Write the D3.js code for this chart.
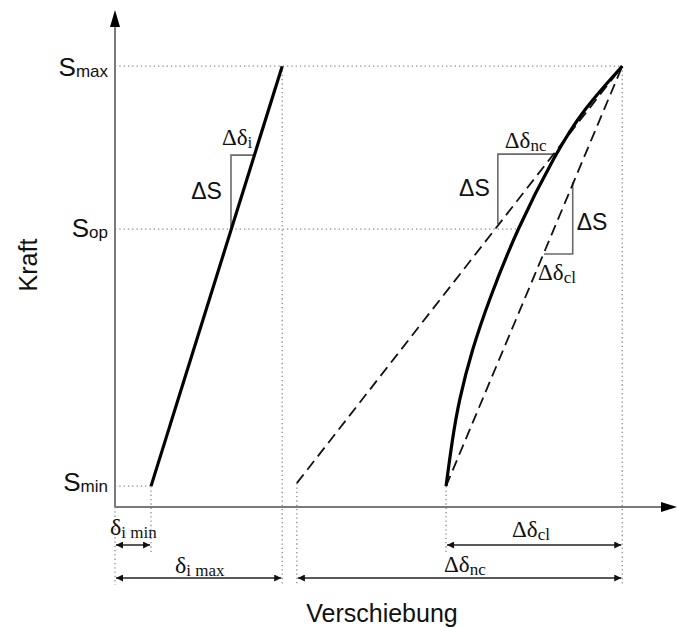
<!DOCTYPE html>
<html>
<head>
<meta charset="utf-8">
<script src="https://cdn.jsdelivr.net/npm/d3@7"></script>
<style>
  html, body { margin: 0; padding: 0; background: #fff; }
  svg { display: block; }
  .sans { font-family: "Liberation Sans", Arial, sans-serif; }
  .serif { font-family: "Liberation Serif", "Times New Roman", serif; }
</style>
</head>
<body>
<svg id="chart"></svg>
<script>
// Force levels (y) and displacement marks (x), in axis units 0..100
const forceSubs = ["min", "op", "max"];
const forceValues = [4.2, 55.9, 88.7];

const shiftIMin = 6.4;
const shiftIMax = 29.7;
const shiftNcStart = 32.3;
const shiftClStart = 58.8;
const shiftEnd = 90.1;

// Lines
const innerLine = [[6.4, 4.2], [29.7, 88.7]];
const ncSecant = [[32.3, 4.8], [90.1, 88.7]];
const clSecant = [[58.8, 4.2], [90.1, 88.7]];
const loadCurve = [[58.8, 4.2], [59.9, 13.5], [61.1, 21.5], [63.4, 31.6], [66.4, 41.6], [71.4, 55.9], [78.2, 71.0], [83.1, 79.9], [90.1, 88.7]];

// Slope triangles (three corners each)
const slopeTriangles = [
    [[20.6, 55.9], [20.6, 70.8], [24.7, 70.8]],
    [[68.0, 56.9], [68.0, 71.0], [78.3, 71.0]],
    [[81.3, 65.4], [81.3, 50.9], [76.2, 50.9]],
];

// Dimension arrows below the axis: [from, to, row]
const dimArrows = [[0, 6.4, 0], [0, 29.7, 1], [58.8, 90.1, 0], [32.3, 90.1, 1]];

const width = 678, height = 628;
const margin = { top: 10, right: 0, bottom: 121, left: 115 };

const svg = d3.select("#chart").attr("width", width).attr("height", height);

const x = d3.scaleLinear().domain([0, 100]).range([margin.left, width - margin.right]);
const y = d3.scaleLinear().domain([0, 100]).range([height - margin.bottom, margin.top]);

const rowY = [545, 578];
const belowY = 585;
const dotGray = "#8a8a8a";

const defs = svg.append("defs");
defs.append("marker")
    .attr("id", "dimHead")
    .attr("viewBox", "0 0 10 10")
    .attr("refX", 10).attr("refY", 5)
    .attr("markerWidth", 12).attr("markerHeight", 7)
    .attr("markerUnits", "userSpaceOnUse")
    .attr("orient", "auto-start-reverse")
    .append("path").attr("d", "M0,0L10,5L0,10Z").attr("fill", "#111");

const line = d3.line().x(d => x(d[0])).y(d => y(d[1]));

// Dotted guide lines
const guides = [
    [[0, forceValues[2]], [shiftEnd, forceValues[2]]],
    [[0, forceValues[1]], [71.2, forceValues[1]]],
    [[0, forceValues[0]], [shiftIMin, forceValues[0]]],
];
svg.selectAll(".hguide")
    .data(guides)
    .join("path")
    .attr("d", line)
    .attr("fill", "none")
    .attr("stroke", dotGray)
    .attr("stroke-width", 1.3)
    .attr("stroke-dasharray", "1.3,3");

const vGuides = [
    [shiftIMax, y(forceValues[2]), belowY],
    [shiftEnd, y(forceValues[2]), belowY],
    [shiftIMin, y(forceValues[0]), 553],
    [shiftClStart, y(forceValues[0]), 553],
    [shiftNcStart, y(4.8), belowY],
    [0, y(0), belowY],
];
svg.selectAll(".vguide")
    .data(vGuides)
    .join("line")
    .attr("x1", d => x(d[0])).attr("x2", d => x(d[0]))
    .attr("y1", d => d[1]).attr("y2", d => d[2])
    .attr("stroke", dotGray)
    .attr("stroke-width", 1.3)
    .attr("stroke-dasharray", "1.3,3");

// Axes
svg.append("line")
    .attr("x1", x(0)).attr("x2", x(0))
    .attr("y1", y(0)).attr("y2", margin.top + 16)
    .attr("stroke", "#7a7a7a").attr("stroke-width", 2);
svg.append("path")
    .attr("d", `M${x(0)},${margin.top}L${x(0) - 5},${margin.top + 17}L${x(0) + 5},${margin.top + 17}Z`)
    .attr("fill", "#000");
svg.append("line")
    .attr("x1", x(0)).attr("x2", width - 16)
    .attr("y1", y(0)).attr("y2", y(0))
    .attr("stroke", "#7a7a7a").attr("stroke-width", 2);
svg.append("path")
    .attr("d", `M${width - 1},${y(0)}L${width - 17},${y(0) - 5}L${width - 17},${y(0) + 5}Z`)
    .attr("fill", "#000");

// Slope triangles
svg.selectAll(".tri")
    .data(slopeTriangles)
    .join("path")
    .attr("d", line)
    .attr("fill", "none")
    .attr("stroke", "#6a6a6a")
    .attr("stroke-width", 1.6);

// Secants (dashed)
svg.selectAll(".secant")
    .data([ncSecant, clSecant])
    .join("path")
    .attr("d", line)
    .attr("fill", "none")
    .attr("stroke", "#111")
    .attr("stroke-width", 1.8)
    .attr("stroke-dasharray", "11,6");

// Solid lines
svg.append("path")
    .datum(innerLine)
    .attr("d", line)
    .attr("fill", "none")
    .attr("stroke", "#000")
    .attr("stroke-width", 3.2);

svg.append("path")
    .datum(loadCurve)
    .attr("d", d3.line().x(d => x(d[0])).y(d => y(d[1])).curve(d3.curveBasis))
    .attr("fill", "none")
    .attr("stroke", "#000")
    .attr("stroke-width", 3.2);

// Dimension arrows
svg.selectAll(".dim")
    .data(dimArrows)
    .join("line")
    .attr("x1", d => x(d[0]) + 1).attr("x2", d => x(d[1]) - 1)
    .attr("y1", d => rowY[d[2]]).attr("y2", d => rowY[d[2]])
    .attr("stroke", "#222")
    .attr("stroke-width", 1.5)
    .attr("marker-start", "url(#dimHead)")
    .attr("marker-end", "url(#dimHead)");

// Force tick labels
const forceText = svg.selectAll(".ftick")
    .data(forceValues)
    .join("text")
    .attr("class", "sans")
    .attr("x", 108)
    .attr("y", (d, i) => y(d) + [5, 8, 10][i])
    .attr("text-anchor", "end")
    .attr("fill", "#111")
    .attr("font-size", 26);
forceText.append("tspan").text("S");
forceText.append("tspan").attr("font-size", 17).attr("dy", 1).text((d, i) => forceSubs[i]);

// Helper for a label with a subscript
function subLabel(px, py, main, sub, cls, size, subSize, anchor) {
    const t = svg.append("text")
        .attr("class", cls)
        .attr("x", px).attr("y", py)
        .attr("fill", "#111")
        .attr("font-size", size)
        .attr("text-anchor", anchor || "start");
    t.append("tspan").text(main);
    if (sub) t.append("tspan").attr("font-size", subSize).attr("dy", 3).text(sub);
    return t;
}

// Triangle labels
subLabel(x(20.6) - 9, y(70.8) - 10, "Δδ", "i", "serif", 23, 17);
subLabel(x(20.6) - 9, y(63.4) + 7, "ΔS", null, "sans", 23, 0, "end");
subLabel(x(68.0) + 7, y(71.0) - 6, "Δδ", "nc", "serif", 23, 17);
subLabel(x(68.0) - 8, y(64.0) + 7, "ΔS", null, "sans", 23, 0, "end");
subLabel(x(81.3) + 4, y(58.1) + 12, "ΔS", null, "sans", 23);
subLabel(x(76.2) - 6, y(50.9) + 26, "Δδ", "cl", "serif", 23, 17);

// Dimension labels
subLabel(x(0) - 5, 535, "δ", "i min", "serif", 24, 17);
subLabel(x(0) + 60, 573, "δ", "i max", "serif", 24, 17);
subLabel(x(58.8) + 66, 537, "Δδ", "cl", "serif", 23, 17);
subLabel(x(58.8) - 2, 572, "Δδ", "nc", "serif", 23, 17);

// Axis titles
svg.append("text")
    .attr("class", "sans")
    .attr("transform", `translate(37, 265) rotate(-90)`)
    .attr("text-anchor", "middle")
    .attr("font-size", 25)
    .attr("fill", "#111")
    .text("Kraft");

svg.append("text")
    .attr("class", "sans")
    .attr("x", 382).attr("y", 622)
    .attr("text-anchor", "middle")
    .attr("font-size", 25)
    .attr("fill", "#111")
    .text("Verschiebung");
</script>
</body>
</html>
